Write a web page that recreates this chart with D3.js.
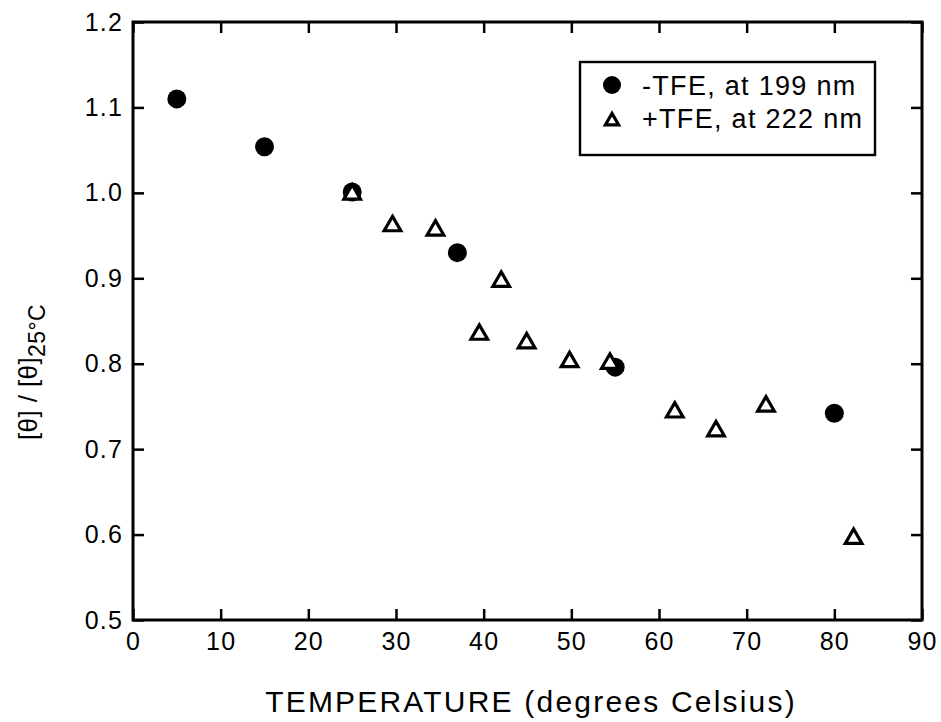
<!DOCTYPE html>
<html><head><meta charset="utf-8">
<script src="https://cdn.jsdelivr.net/npm/d3@7"></script>
<style>body{margin:0;background:#fff}svg{display:block}text{font-family:"Liberation Sans",Arial,sans-serif;fill:#000}</style>
</head><body><svg id="c" width="941" height="722"></svg>
<script>
const xTicks = [0,10,20,30,40,50,60,70,80,90];
const yTicks = [0.5,0.6,0.7,0.8,0.9,1.0,1.1,1.2];
const noTFE_temp = [5,15,25,37,55,80];
const noTFE_val  = [1.110,1.054,1.001,0.930,0.796,0.742];
const TFE_temp = [25,29.6,34.5,39.5,42,44.9,49.8,54.4,61.8,66.5,72.2,82.2];
const TFE_val  = [1.000,0.963,0.958,0.836,0.898,0.826,0.804,0.802,0.745,0.723,0.752,0.597];
const legendLabels = ["-TFE, at 199 nm","+TFE, at 222 nm"];

const svg = d3.select("#c");
const L=133,R=922,T=22,B=620;
const x = d3.scaleLinear().domain([0,90]).range([L,R]);
const y = d3.scaleLinear().domain([0.5,1.2]).range([B,T]);
const tl = 11;

const g = svg.append("g");
g.append("g").attr("transform",`translate(0,${B})`).call(d3.axisBottom(x).tickValues(xTicks).tickSizeInner(-tl).tickSizeOuter(0).tickPadding(12).tickFormat(d3.format("d")));
g.append("g").attr("transform",`translate(0,${T})`).call(d3.axisTop(x).tickValues(xTicks).tickSizeInner(-tl).tickSizeOuter(0).tickFormat(""));
g.append("g").attr("transform",`translate(${L},0)`).call(d3.axisLeft(y).tickValues(yTicks).tickSizeInner(-tl).tickSizeOuter(0).tickPadding(10).tickFormat(d3.format(".1f")));
g.append("g").attr("transform",`translate(${R},0)`).call(d3.axisRight(y).tickValues(yTicks).tickSizeInner(-tl).tickSizeOuter(0).tickFormat(""));
g.selectAll(".domain").remove();
g.selectAll(".tick line").attr("stroke","#000").attr("stroke-width",2.5);
g.selectAll(".tick text").style("font-size","25px").attr("letter-spacing","1.2px");
svg.append("rect").attr("x",L).attr("y",T).attr("width",R-L).attr("height",B-T).attr("fill","none").attr("stroke","#000").attr("stroke-width",3);

const tri = d3.symbol().type(d3.symbolTriangle).size(120);
svg.append("g").selectAll("circle").data(noTFE_temp).join("circle")
  .attr("cx",d=>x(d)).attr("cy",(d,i)=>y(noTFE_val[i])).attr("r",9.5).attr("fill","#000");
svg.append("g").selectAll("path").data(TFE_temp).join("path")
  .attr("d",tri).attr("transform",(d,i)=>`translate(${x(d)},${y(TFE_val[i])+1.5})`)
  .attr("fill","#fff").attr("stroke","#000").attr("stroke-width",3.2);

const lg = svg.append("g");
lg.append("rect").attr("x",580).attr("y",62).attr("width",295).attr("height",93).attr("fill","#fff").attr("stroke","#000").attr("stroke-width",2.4);
lg.append("circle").attr("cx",612).attr("cy",85).attr("r",9).attr("fill","#000");
lg.append("path").attr("d",d3.symbol().type(d3.symbolTriangle).size(75)).attr("transform","translate(612,121)").attr("fill","#fff").attr("stroke","#000").attr("stroke-width",3.2);
lg.selectAll("text").data(legendLabels).join("text").attr("x",642).attr("y",(d,i)=>95+i*33).style("font-size","27px").attr("letter-spacing","1.3px").text(d=>d);

svg.append("text").attr("x",531).attr("y",712).attr("text-anchor","middle").style("font-size","30px").attr("letter-spacing","2.2px").text("TEMPERATURE (degrees Celsius)");
const yt = svg.append("text").attr("transform","translate(37,372) rotate(-90)").attr("text-anchor","middle").style("font-size","26px").attr("letter-spacing","0.4px");
yt.append("tspan").text("[θ] / [θ]");
yt.append("tspan").attr("dy",8).style("font-size","23px").text("25°C");
</script></body></html>
